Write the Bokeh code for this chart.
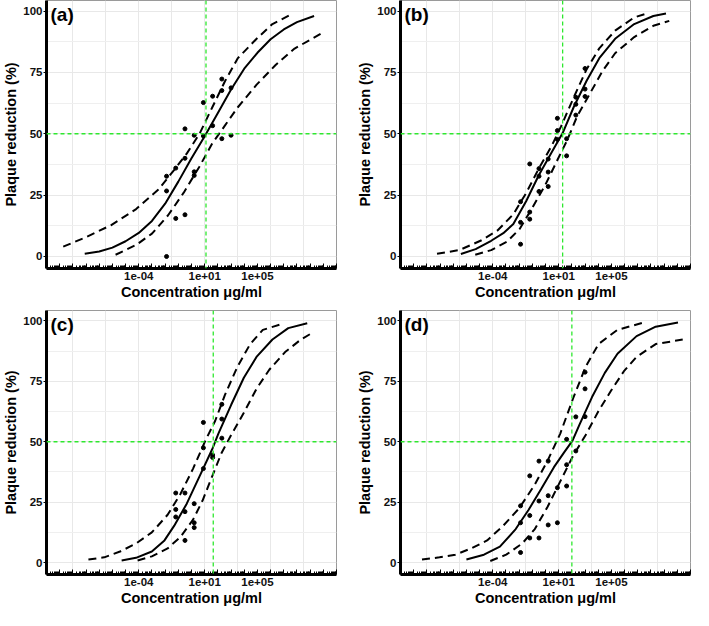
import numpy as np
from bokeh.plotting import figure
from bokeh.layouts import column, row
from bokeh.models import Range1d, FixedTicker, CustomJSTickFormatter, Span, Label
from bokeh.embed import file_html
from bokeh.resources import INLINE

# ---------------- data ----------------
X_TICK_VALUES = [1e-4, 1e1, 1e5]
X_TICK_LABELS = ["1e-04", "1e+01", "1e+05"]
Y_TICKS = [0, 25, 50, 75, 100]
PANEL_TAGS = ["(a)", "(b)", "(c)", "(d)"]

# observations: concentration (µg/ml) and plaque reduction (%)
A_PT_X = [0.0128, 0.0128, 0.0128, 0.064, 0.064, 0.32, 0.32, 0.32, 1.6, 1.6, 1.6,
          8, 8, 40, 40, 200, 200, 200, 1000, 1000]
A_PT_Y = [0, 26.7, 32.7, 15.5, 36, 17, 40, 52, 33, 34.5, 49.4,
          62.7, 49.1, 65.3, 53.3, 67.6, 72.3, 48, 68.7, 49.4]

B_PT_X = [0.0128, 0.0128, 0.0128, 0.064, 0.064, 0.064, 0.32, 0.32, 0.32, 1.6, 1.6, 1.6,
          8, 8, 8, 40, 40, 200, 200, 200, 1000, 1000, 1000]
B_PT_Y = [22.3, 13.9, 5.0, 37.7, 18.1, 15.2, 35.8, 32.7, 26.5, 39.7, 34.4, 28.5,
          56.3, 51.3, 47.7, 48, 41, 64.9, 62, 57.6, 76.6, 68.2, 65.2]

C_PT_X = [0.064, 0.064, 0.064, 0.32, 0.32, 0.32, 1.6, 1.6, 1.6, 8, 8, 8, 40, 40,
          200, 200, 200]
C_PT_Y = [28.8, 22, 18.9, 28.8, 21.1, 9.2, 24.4, 16.5, 14.5, 58, 47.5, 38.9, 44.5, 43.5,
          65.5, 59.4, 51.5]

D_PT_X = [0.0128, 0.0128, 0.0128, 0.064, 0.064, 0.064, 0.32, 0.32, 0.32, 1.6, 1.6, 1.6,
          8, 8, 40, 40, 40, 200, 200, 1000, 1000, 1000]
D_PT_Y = [23.5, 16.5, 4.2, 35.9, 19.5, 10.2, 42, 25.5, 10.2, 42, 27.7, 15.6,
          31, 16.5, 51, 40.5, 31.7, 60.3, 46.2, 78.8, 71.9, 60.4]

# fitted curves and confidence bands: log10(concentration) and plaque reduction (%)
A_FIT_LX = [-8.1, -7, -6, -5, -4, -3, -2, -1, 0, 1, 2, 3, 4, 5, 6, 7, 8, 9.3]
A_FIT_Y = [1.1, 2.0, 3.6, 6.2, 9.6, 14.5, 21.5, 30.5, 40, 49, 58.5, 68, 76.5, 83, 88.5, 92.5, 95.5, 98]
A_UP_LX = [-9.73, -8.04, -6.12, -4.2, -2.51, -1.31, -0.35, 0.61, 1.57, 2.53, 3.5, 4.94, 6.14, 7.58]
A_UP_Y = [4, 7.8, 12.7, 19.3, 27.3, 35.3, 42, 50, 60.7, 71.3, 80.7, 88.7, 94.7, 98.7]
A_LO_LX = [-5.76, -4.2, -3.0, -1.79, -0.59, 0.61, 1.57, 2.53, 3.5, 4.94, 6.38, 7.82, 9.99]
A_LO_Y = [0.7, 4.7, 9.3, 16.7, 26, 36.7, 46, 53.3, 60.7, 70, 78, 84.7, 91.3]

B_FIT_LX = [-6.42, -5.3, -4.12, -3.2, -2.44, -1.47, -0.51, 0.46, 1.3, 2.15, 3.11, 4.08, 5.28, 6.73, 8.18, 9.14]
B_FIT_Y = [1.0, 3, 6.4, 9.5, 13.2, 22.5, 33.1, 42.4, 50.3, 61, 71.5, 80.8, 88.7, 94.7, 98, 99]
B_UP_LX = [-8.23, -6.54, -4.85, -3.64, -2.44, -1.47, -0.51, 0.46, 1.18, 2.15, 3.11, 4.08, 5.28, 6.73, 7.7]
B_UP_Y = [1.1, 2.6, 6.6, 10.6, 17.2, 25.8, 35.8, 45, 53, 64.9, 76.2, 84.8, 92, 97.4, 99]
B_LO_LX = [-5.33, -4.12, -2.92, -1.95, -0.99, -0.02, 0.94, 1.67, 2.39, 3.35, 4.32, 5.28, 6.73, 8.18, 9.39]
B_LO_Y = [0.7, 2.6, 6, 11.3, 19.9, 29.1, 39.7, 47.7, 57, 66.2, 75.5, 82.8, 89.4, 94, 96]

C_FIT_LX = [-5.3, -4.21, -3.01, -2.05, -1.32, -0.36, 0.6, 1.56, 2.04, 3.01, 3.97, 4.93, 6.14, 7.34, 8.78]
C_FIT_Y = [0.9, 2, 4.6, 9.2, 15.2, 24.4, 35.6, 46.8, 53.4, 65.3, 76.5, 85.1, 92.3, 97, 99]
C_UP_LX = [-7.82, -6.62, -5.42, -4.21, -3.01, -1.81, -0.84, 0.12, 1.08, 1.8, 2.53, 3.49, 4.45, 5.41, 6.74]
C_UP_Y = [1.3, 2.2, 4.6, 7.9, 12.5, 19.8, 28.4, 38.9, 50.8, 58.7, 69.3, 81.1, 90.4, 96.3, 98.5]
C_LO_LX = [-4.09, -3.01, -1.81, -0.84, 0.12, 0.84, 1.56, 2.29, 3.01, 3.97, 4.93, 5.9, 7.1, 8.3, 9.14]
C_LO_Y = [0.9, 2.6, 5.9, 10.6, 17.8, 25.7, 35.6, 45.5, 52.8, 62, 71.9, 79.8, 87.1, 92.3, 95]

D_FIT_LX = [-6.0, -4.67, -3.46, -2.26, -1.29, -0.33, 0.64, 1.4, 2.05, 2.57, 3.53, 4.5, 5.46, 6.91, 8.36, 10.05]
D_FIT_Y = [1.3, 3.3, 6.6, 13.9, 21.8, 30.5, 39.5, 45.5, 50.5, 57, 68.5, 78.5, 86.4, 93.7, 97.6, 99.3]
D_UP_LX = [-9.37, -8.04, -6.84, -5.63, -4.43, -3.22, -2.01, -0.81, 0.16, 1.12, 2.09, 3.05, 4.02, 5.46, 7.64]
D_UP_Y = [1.3, 2.2, 3.3, 5.9, 9.2, 15.2, 22.4, 32.3, 42.2, 53.4, 67.9, 81.1, 90.4, 96.3, 99.6]
D_LO_LX = [-4.19, -2.98, -1.77, -0.81, 0.16, 1.12, 2.09, 3.05, 4.02, 4.98, 5.95, 6.91, 8.36, 10.41]
D_LO_Y = [0.7, 3.3, 7.9, 13.9, 23.1, 33.6, 44.2, 52.8, 62.7, 71.2, 79.2, 85.1, 90.4, 92.3]

# log10 of EC50 (green reference line) and the 50 % line
EC50_LOG = [1.1, 1.3, 1.65, 2.0]
HALF_EFFECT = 50

# ---------------- styling ----------------
FONT = "Liberation Sans"
GREEN = "#2ee82e"
XGRID_LOG = [-9, -6.5, -4, -1.5, 1, 3.5, 6, 8.5]


def make_panel(tag, pt_x, pt_y, fit, up, lo, ec50_log, width, height,
               left, right, top, bottom):
    p = figure(width=width, height=height, output_backend="svg", toolbar_location=None,
               x_axis_type="log", x_range=Range1d(1e-11, 1e11),
               y_range=Range1d(-4.9, 104.3),
               min_border_left=left, min_border_right=right,
               min_border_top=top, min_border_bottom=bottom,
               x_axis_label="Concentration μg/ml", y_axis_label="Plaque reduction (%)")
    p.background_fill_color = "white"
    p.border_fill_color = "white"
    p.outline_line_color = "#9a9a9a"
    p.outline_line_width = 1

    # grids
    p.xgrid.ticker = FixedTicker(ticks=[10.0 ** v for v in XGRID_LOG])
    p.xgrid.grid_line_color = "#e8e8e8"
    p.ygrid.ticker = FixedTicker(ticks=Y_TICKS, minor_ticks=[12.5, 37.5, 62.5, 87.5])
    p.ygrid.grid_line_color = "#e8e8e8"
    p.ygrid.minor_grid_line_color = "#efefef"

    # x axis (log ticks inside the panel)
    xa = p.xaxis[0]
    xa.ticker = FixedTicker(ticks=[10.0 ** k for k in range(-11, 12)],
                            minor_ticks=[m * 10.0 ** k for k in range(-11, 11) for m in range(2, 10)])
    xa.formatter = CustomJSTickFormatter(args=dict(vals=X_TICK_VALUES, labs=X_TICK_LABELS), code="""
        for (let i = 0; i < vals.length; i++) {
            if (Math.abs(Math.log10(tick) - Math.log10(vals[i])) < 1e-6) return labs[i];
        }
        return "";
    """)
    xa.major_tick_in = 5
    xa.major_tick_out = 0
    xa.minor_tick_in = 3
    xa.minor_tick_out = 0
    xa.major_label_standoff = 3
    xa.axis_label_standoff = 1

    ya = p.yaxis[0]
    ya.ticker = FixedTicker(ticks=Y_TICKS)
    ya.major_tick_in = 0
    ya.major_tick_out = 3
    ya.minor_tick_line_color = None
    ya.major_label_standoff = 1
    ya.axis_label_standoff = 1

    for ax in (xa, ya):
        ax.axis_line_width = 3
        ax.axis_line_color = "black"
        ax.major_tick_line_color = "black"
        ax.major_tick_line_width = 1
        ax.minor_tick_line_width = 1
        ax.major_label_text_font = FONT
        ax.major_label_text_font_style = "bold"
        ax.major_label_text_font_size = "11.5px"
        ax.major_label_text_color = "#111111"
        ax.axis_label_text_font = FONT
        ax.axis_label_text_font_style = "bold"
        ax.axis_label_text_font_size = "14.5px"
        ax.axis_label_text_color = "black"
    xa.minor_tick_line_color = "black"

    # green reference lines
    p.add_layout(Span(location=10.0 ** ec50_log, dimension="height", line_color=GREEN,
                      line_dash="4 3", line_width=1.3))
    p.add_layout(Span(location=HALF_EFFECT, dimension="width", line_color=GREEN,
                      line_dash="4 3", line_width=1.3))

    # curves
    fx, fy = fit
    ux, uy = up
    lx, ly = lo
    p.line(10.0 ** np.array(ux), uy, line_color="black", line_width=2, line_dash="8 5")
    p.line(10.0 ** np.array(lx), ly, line_color="black", line_width=2, line_dash="8 5")
    p.line(10.0 ** np.array(fx), fy, line_color="black", line_width=2)

    # points
    p.scatter(pt_x, pt_y, size=4, color="black")

    p.add_layout(Label(x=1e-11, y=104.3, x_offset=4, y_offset=-3, text=tag,
                       text_font=FONT, text_font_style="bold", text_font_size="19px",
                       text_baseline="top", text_color="black"))
    return p


pa = make_panel(PANEL_TAGS[0], A_PT_X, A_PT_Y, (A_FIT_LX, A_FIT_Y), (A_UP_LX, A_UP_Y),
                (A_LO_LX, A_LO_Y), EC50_LOG[0], 354, 306, 38, 18, 0, 38)
pb = make_panel(PANEL_TAGS[1], B_PT_X, B_PT_Y, (B_FIT_LX, B_FIT_Y), (B_UP_LX, B_UP_Y),
                (B_LO_LX, B_LO_Y), EC50_LOG[1], 337, 306, 38, 1, 0, 38)
pc = make_panel(PANEL_TAGS[2], C_PT_X, C_PT_Y, (C_FIT_LX, C_FIT_Y), (C_UP_LX, C_UP_Y),
                (C_LO_LX, C_LO_Y), EC50_LOG[2], 354, 302, 38, 18, 4, 34)
pd_ = make_panel(PANEL_TAGS[3], D_PT_X, D_PT_Y, (D_FIT_LX, D_FIT_Y), (D_UP_LX, D_UP_Y),
                 (D_LO_LX, D_LO_Y), EC50_LOG[3], 337, 302, 38, 1, 4, 34)

layout = column(row(pa, pb), row(pc, pd_))
open("out.html", "w").write(file_html(layout, INLINE))
